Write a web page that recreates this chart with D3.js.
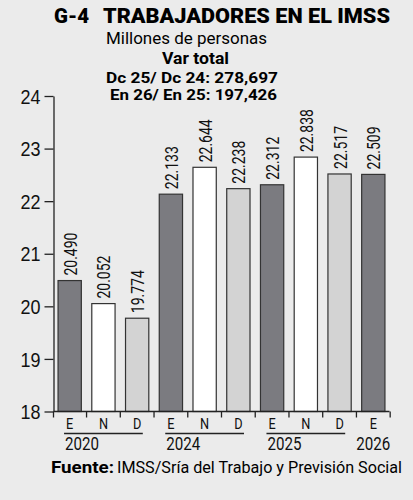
<!DOCTYPE html>
<html>
<head>
<meta charset="utf-8">
<script src="https://cdn.jsdelivr.net/npm/d3@7"></script>
<style>
	body{margin:0;background:#ebebeb;}
	svg{display:block;font-family:Roboto,"Noto Sans",sans-serif;}
	.axis path,.axis line{stroke:#222;stroke-width:1.3;}
</style>
</head>
<body>
<script>
(function(){
	//chart data
	var months=["E","N","D","E","N","D","E","N","D","E"];
	var years=["2020","2024","2025","2026"];
	var yearSpans=[[0,2],[3,5],[6,8],[9,9]]; //first and last bar of each year
	var values=[20.490,20.052,19.774,22.133,22.644,22.238,22.312,22.838,22.517,22.509];
	var valueLabels=["20.490","20.052","19.774","22.133","22.644","22.238","22.312","22.838","22.517","22.509"];
	var yTicks=[18,19,20,21,22,23,24];
	var monthColors={E:"#7b7b80",N:"#ffffff",D:"#d3d3d3"};

	var width=413,height=500;

	var svg=d3.select("body")
		.append("svg")
		.attr("width",width)
		.attr("height",height);

	svg.append("rect")
		.attr("width",width)
		.attr("height",height)
		.attr("fill","#ebebeb");

	//title block
	svg.append("text")
		.attr("x",54).attr("y",23)
		.attr("font-size",21).attr("font-weight",900)
		.attr("textLength",35).attr("lengthAdjust","spacingAndGlyphs")
		.text("G-4");
	svg.append("text")
		.attr("x",103).attr("y",23)
		.attr("font-size",21).attr("font-weight",900)
		.attr("textLength",287).attr("lengthAdjust","spacingAndGlyphs")
		.text("TRABAJADORES EN EL IMSS");

	var sub=[
		{t:"Millones de personas",x:106,y:44,w:161,b:400,s:16},
		{t:"Var total",x:162,y:64,w:67,b:700,s:16},
		{t:"Dc 25/ Dc 24: 278,697",x:106,y:82.5,w:172,b:700,s:15},
		{t:"En 26/ En 25: 197,426",x:110,y:100,w:167,b:700,s:15}
	];
	svg.selectAll(".sub")
		.data(sub)
		.enter()
		.append("text")
		.attr("class","sub")
		.attr("x",function(d){return d.x;})
		.attr("y",function(d){return d.y;})
		.attr("font-size",function(d){return d.s;})
		.attr("font-weight",function(d){return d.b;})
		.attr("textLength",function(d){return d.w;})
		.attr("lengthAdjust","spacingAndGlyphs")
		.text(function(d){return d.t;});

	//scales
	var left=53.5,right=389.5,bottom=411.5,top=96;
	var x=d3.scaleBand()
		.domain(d3.range(months.length))
		.range([left,right])
		.paddingInner(0.31)
		.paddingOuter(0.135);
	var y=d3.scaleLinear()
		.domain([18,24])
		.range([bottom,top]);

	//bars
	svg.selectAll(".bar")
		.data(values)
		.enter()
		.append("rect")
		.attr("class","bar")
		.attr("x",function(d,i){return x(i);})
		.attr("width",x.bandwidth())
		.attr("y",function(d){return y(d);})
		.attr("height",function(d){return y(18)-y(d);})
		.attr("fill",function(d,i){return monthColors[months[i]];})
		.attr("stroke","#333")
		.attr("stroke-width",1.2);

	//value labels (rotated)
	svg.selectAll(".val")
		.data(values)
		.enter()
		.append("text")
		.attr("class","val")
		.attr("transform",function(d,i){
			return "translate("+(x(i)+x.bandwidth()/2+7)+","+(y(d)-5)+") rotate(-90)";
		})
		.attr("font-size",18)
		.attr("textLength",43)
		.attr("lengthAdjust","spacingAndGlyphs")
		.attr("fill","#111")
		.text(function(d,i){return valueLabels[i];});

	//y axis
	var yAxis=d3.axisLeft(y)
		.tickValues(yTicks)
		.tickSize(9)
		.tickPadding(4)
		.tickSizeOuter(0)
		.tickFormat(d3.format("d"));
	var ya=svg.append("g")
		.attr("class","axis")
		.attr("transform","translate("+left+",0)")
		.call(yAxis);
	ya.selectAll("text")
		.attr("font-size",20)
		.attr("font-weight",500)
		.attr("fill","#111")
		.attr("dy","0.36em")
		.attr("textLength",20)
		.attr("lengthAdjust","spacingAndGlyphs");

	//x axis baseline and separator ticks
	var step=x.step();
	var sepX=d3.range(months.length+1).map(function(i){
		return i==0 ? left : x(i-1)+x.bandwidth()+(step-x.bandwidth())/2;
	});
	var xa=svg.append("g").attr("class","axis");
	xa.append("line")
		.attr("x1",left).attr("x2",right)
		.attr("y1",bottom).attr("y2",bottom);
	xa.selectAll(".sep")
		.data(sepX)
		.enter()
		.append("line")
		.attr("x1",function(d){return d;}).attr("x2",function(d){return d;})
		.attr("y1",bottom).attr("y2",bottom+6);

	//month labels
	svg.selectAll(".mon")
		.data(months)
		.enter()
		.append("text")
		.attr("class","mon")
		.attr("x",function(d,i){return x(i)+x.bandwidth()/2;})
		.attr("y",429)
		.attr("text-anchor","middle")
		.attr("font-size",15)
		.attr("fill","#111")
		.attr("transform",function(d,i){
			var cx=x(i)+x.bandwidth()/2;
			return "translate("+cx+",0) scale(0.85,1) translate("+(-cx)+",0)";
		})
		.text(function(d){return d;});

	//year underlines and labels
	svg.selectAll(".yline")
		.data(yearSpans.filter(function(s){return s[1]>s[0];}))
		.enter()
		.append("line")
		.attr("x1",function(s){return x(s[0])+6;})
		.attr("x2",function(s){return x(s[1])+x.bandwidth()-6;})
		.attr("y1",433.5).attr("y2",433.5)
		.attr("stroke","#222").attr("stroke-width",1.3);
	svg.selectAll(".year")
		.data(years)
		.enter()
		.append("text")
		.attr("class","year")
		.attr("x",function(d,i){
			var s=yearSpans[i];
			return s[1]>s[0] ? x(s[0])+7 : x(s[0])+x.bandwidth()/2-17;
		})
		.attr("y",450)
		.attr("font-size",18)
		.attr("fill","#111")
		.attr("textLength",34)
		.attr("lengthAdjust","spacingAndGlyphs")
		.text(function(d){return d;});

	//source line
	svg.append("text")
		.attr("x",51).attr("y",473)
		.attr("font-size",16).attr("font-weight",700)
		.attr("textLength",63).attr("lengthAdjust","spacingAndGlyphs")
		.text("Fuente:");
	svg.append("text")
		.attr("x",117).attr("y",473)
		.attr("font-size",16)
		.attr("textLength",285).attr("lengthAdjust","spacingAndGlyphs")
		.text("IMSS/Sría del Trabajo y Previsión Social");
})();
</script>
</body>
</html>
